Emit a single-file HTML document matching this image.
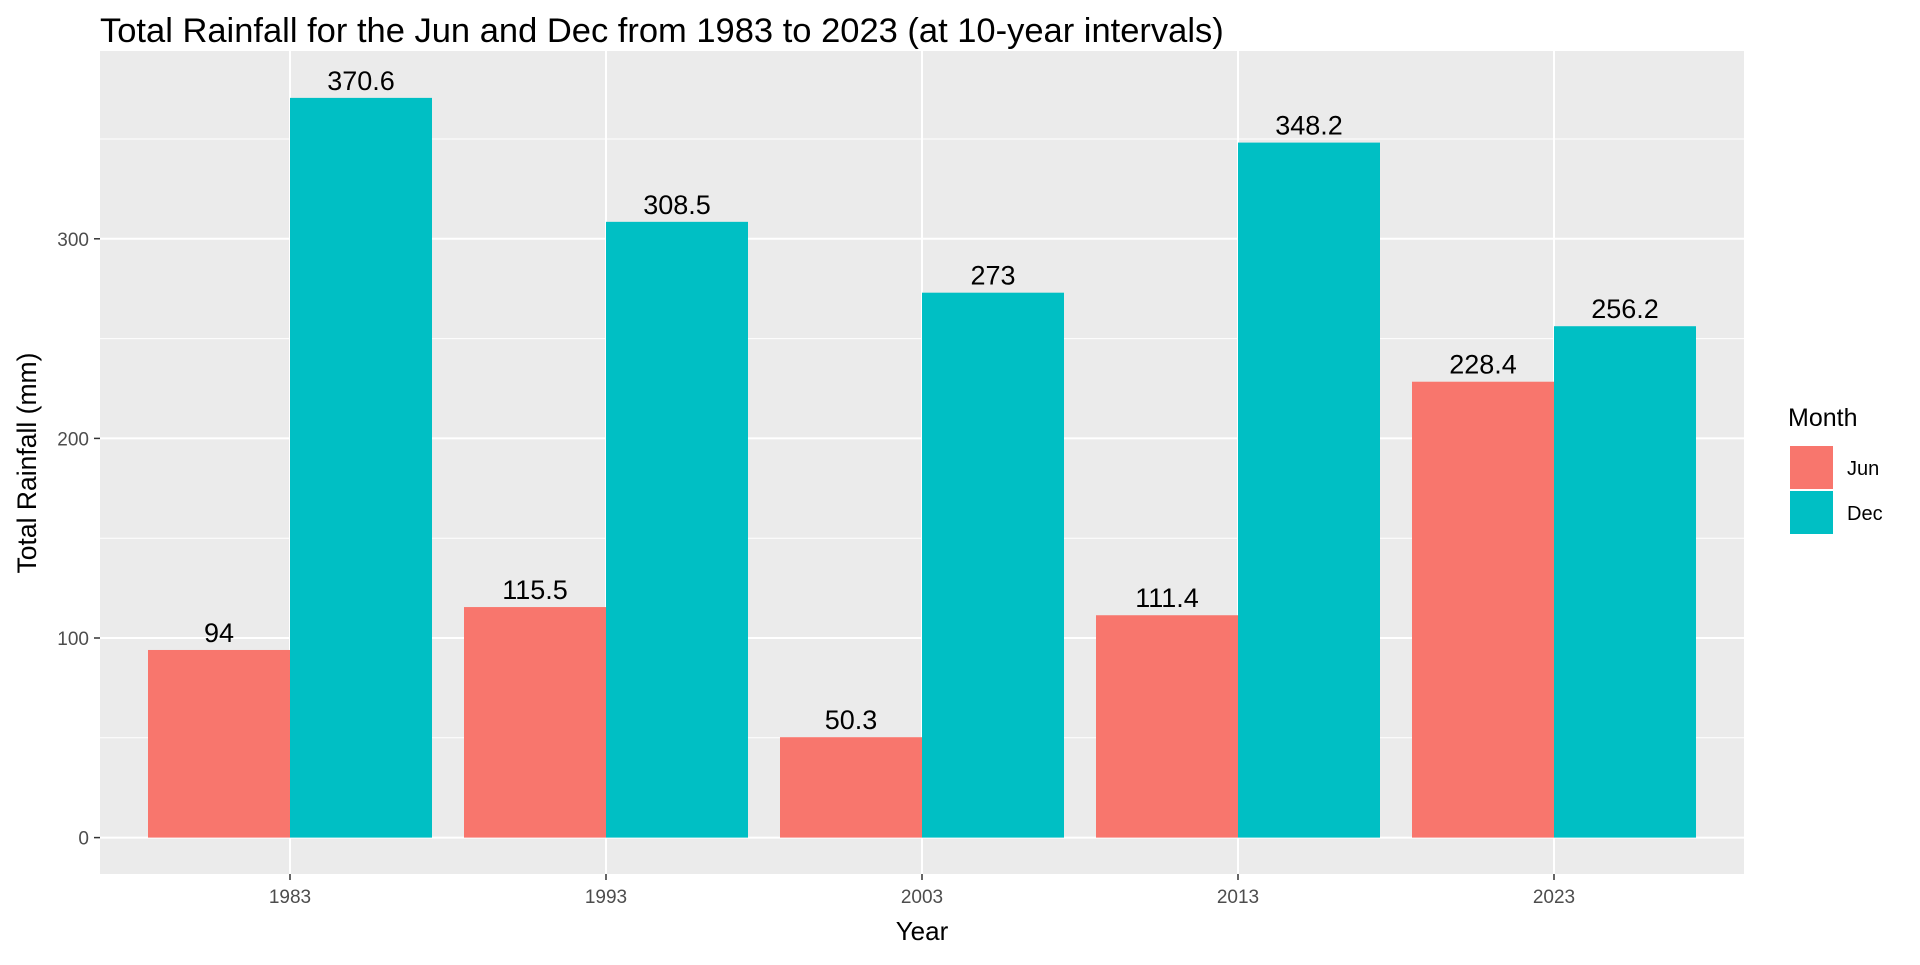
<!DOCTYPE html>
<html><head><meta charset="utf-8"><style>
body{margin:0;background:#fff;}
svg text{font-family:"Liberation Sans",Arial,sans-serif;}
</style></head><body>
<svg id="chart" width="1920" height="960">
<rect x="0" y="0" width="1920" height="960" fill="#fff"/>
<text x="100" y="42" font-size="34.5" fill="#000">Total Rainfall for the Jun and Dec from 1983 to 2023 (at 10-year intervals)</text>
<rect x="100" y="51" width="1644" height="823" fill="#ebebeb"/>
<g id="grid"></g><g id="bars"></g><g id="labels"></g><g id="axes"></g>
<text transform="translate(36,463) rotate(-90)" text-anchor="middle" font-size="26.5" fill="#000">Total Rainfall (mm)</text>
<text x="922" y="940" text-anchor="middle" font-size="26" fill="#000">Year</text>
<g>
<text x="1788" y="426" font-size="25" fill="#000">Month</text>
<rect x="1790" y="446" width="43" height="43" fill="#f8766d"/>
<text x="1847" y="475" font-size="20" fill="#000">Jun</text>
<rect x="1790" y="491" width="43" height="43" fill="#00bfc4"/>
<text x="1847" y="520" font-size="20" fill="#000">Dec</text>
</g>
</svg>
<script>
const years = ["1983","1993","2003","2013","2023"];
const junValues = [94,115.5,50.3,111.4,228.4];
const decValues = [370.6,308.5,273,348.2,256.2];
const yTicks = [0,100,200,300];
const yMinor = [50,150,250,350];
const NS="http://www.w3.org/2000/svg";
const y0=837.6, pxPer=1.996;
const yScale=v=>y0-v*pxPer;
const xScale=i=>290+i*316;
const bw=142;
function mk(tag,attrs,parent){const e=document.createElementNS(NS,tag);for(const k in attrs)e.setAttribute(k,attrs[k]);document.getElementById(parent).appendChild(e);return e;}
yMinor.forEach(v=>{const l=mk('line',{x1:100,x2:1744,y1:yScale(v),y2:yScale(v),stroke:'#fff','stroke-width':1},'grid');

});
yTicks.forEach(v=>{const l=mk('line',{x1:100,x2:1744,y1:yScale(v),y2:yScale(v),stroke:'#fff','stroke-width':2},'grid');


const t=mk('line',{x1:94,x2:100,y1:yScale(v),y2:yScale(v),stroke:'#333','stroke-width':1.5},'axes');


const tx=mk('text',{x:89,y:yScale(v)+7,'text-anchor':'end','font-size':19,fill:'#4d4d4d'},'axes');tx.textContent=v;

});
years.forEach((yr,i)=>{const cx=xScale(i);
const g=mk('line',{x1:cx,x2:cx,y1:51,y2:874,stroke:'#fff','stroke-width':2},'grid');


const t=mk('line',{x1:cx,x2:cx,y1:874,y2:880,stroke:'#333','stroke-width':1.5},'axes');


const tx=mk('text',{x:cx,y:903,'text-anchor':'middle','font-size':19,fill:'#4d4d4d'},'axes');tx.textContent=yr;


[[junValues[i],cx-bw,'#f8766d','jun'],[decValues[i],cx,'#00bfc4','dec']].forEach(([v,x,c,n])=>{
const r=mk('rect',{x:x,y:yScale(v),width:bw,height:y0-yScale(v),fill:c},'bars');


const lb=mk('text',{x:x+bw/2,y:yScale(v)-8,'text-anchor':'middle','font-size':27,fill:'#000'},'labels');lb.textContent=v;

});});
</script>
</body></html>
